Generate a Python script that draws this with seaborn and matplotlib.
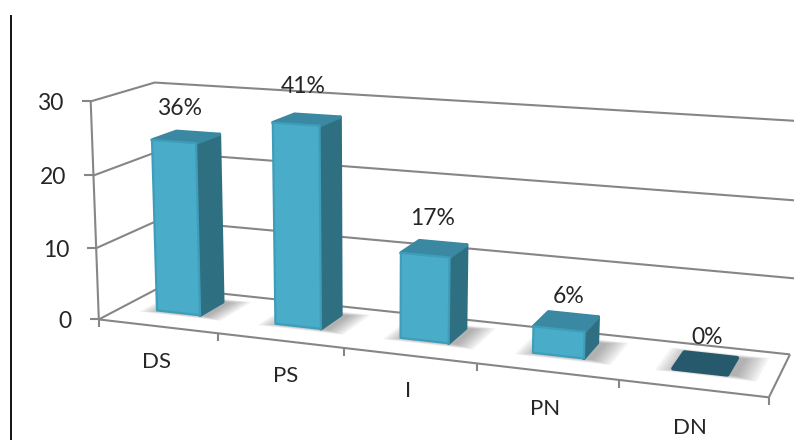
import numpy as np
import pandas as pd
import matplotlib
matplotlib.use("Agg")
import matplotlib.pyplot as plt
import seaborn as sns
from matplotlib.patches import Polygon
from matplotlib.transforms import Affine2D, Transform

categories = ["DS", "PS", "I", "PN", "DN"]
counts = [24, 27.5, 11.5, 3.5, 0]
percent_labels = ["36%", "41%", "17%", "6%", "0%"]
y_ticks = [0, 10, 20, 30]

W, H = 794, 440
BAR_W = 0.37
BAR_SHIFT = 0.48  # bar centres sit a bit left of the middle of each slot
D_FRONT, D_BACK = 0.38, 0.78

FRONT = "#49acc8"
FRONT_EDGE = "#3f9db9"
SIDE = "#2f6f82"
TOP = "#3a88a1"
ZERO = "#26596b"
GRID = "#868686"
TEXT = "#262626"

# where the texts sit, in pixels from the top left
category_label_xy = [(156, 362), (286, 376), (408, 391), (545, 409), (690, 428)]
percent_label_xy = [(180, 108), (303, 86), (433, 218), (569, 296), (707, 337)]

# calibration of the fake 3d view: (category pos, value, depth) -> pixel
calib = [
    ((0, 0, 0), (102, 318)), ((0, 10, 0), (97, 247)), ((0, 20, 0), (92, 175)),
    ((0, 30, 0), (88, 102)), ((0, 0, 1), (157, 290)), ((0, 30, 1), (158, 82)),
    ((1, 0, 0), (219, 332.5)), ((2, 0, 0), (343, 347.5)), ((3, 0, 0), (477, 364)),
    ((4, 0, 0), (618, 381.5)), ((5, 0, 0), (769, 399)), ((5, 0, 1), (790, 352)),
    ((5, 10, 1), (795, 277)), ((5, 20, 1), (799, 200)), ((5, 30, 1), (803, 123)),
]


def fit_camera(pairs):
    rows = []
    for (x, v, d), (u, w) in pairs:
        p = [x, v, d, 1]
        rows.append(p + [0, 0, 0, 0] + [-u * c for c in p])
        rows.append([0, 0, 0, 0] + p + [-w * c for c in p])
    _, _, vt = np.linalg.svd(np.array(rows, dtype=float))
    return vt[-1].reshape(3, 4)


CAM = fit_camera(calib)


def project(x, v, d):
    # category position runs 0..5 on the floor
    q = CAM @ np.array([x, v, d, 1.0])
    return q[0] / q[2], q[1] / q[2]


class DepthPlane(Transform):
    """Data (category index, value) to display, on a plane at a fixed depth."""
    input_dims = 2
    output_dims = 2
    is_separable = False

    def __init__(self, plane_depth):
        super().__init__()
        self.plane_depth = plane_depth

    def transform_non_affine(self, values):
        values = np.asarray(values, dtype=float)
        pts = np.column_stack([values[:, 0] + BAR_SHIFT, values[:, 1],
                               np.full(len(values), self.plane_depth), np.ones(len(values))])
        q = pts @ CAM.T
        return np.column_stack([q[:, 0] / q[:, 2], H - q[:, 1] / q[:, 2]])


df = pd.DataFrame({"category": categories, "count": counts})

sns.set_theme(style="white")
plt.rcParams["font.family"] = ["Lato", "DejaVu Sans"]

fig = plt.figure(figsize=(W / 100, H / 100), dpi=100)
ax = fig.add_axes([0, 0, 1, 1])
sns.barplot(data=df, x="category", y="count", color=FRONT, width=BAR_W, saturation=1, ax=ax)
ax.axis("off")
bars = list(ax.patches)

pix = Affine2D().scale(1, -1).translate(0, H)


def line(pts, color=GRID, lw=1.5, z=1):
    xs, ys = zip(*pts)
    ax.plot(xs, ys, color=color, lw=lw, transform=pix, zorder=z, clip_on=False,
            solid_capstyle="butt", scalex=False, scaley=False)


def face(pts, color, z, alpha=1.0, lw=2.4):
    poly = Polygon(pts, closed=True, facecolor=color, edgecolor=color, lw=lw,
                   joinstyle="round", transform=pix, zorder=z, alpha=alpha, clip_on=False)
    ax.add_patch(poly)


# frame: side wall, back wall and floor
for v in y_ticks:
    line([project(0, v, 0), project(0, v, 1), project(5 if v == 0 else 5.2, v, 1)])
    x0, y0 = project(0, v, 0)
    line([(x0 - 9, y0), (x0, y0)])
    ax.text(x0 - 27, y0 + 2, str(v), transform=pix, ha="right", va="center",
            fontsize=16.5, color=TEXT, clip_on=False)
line([project(0, 0, 0), project(0, 30, 0)])
line([project(0, 0, 0), project(5, 0, 0), project(5, 0, 1)])
for i in range(6):
    x0, y0 = project(i, 0, 0)
    line([(x0, y0), (x0, y0 + 8)])

# the black rule at the left of the picture
line([(11, 15), (11, H)], color="black", lw=1.3)

for name, (tx, ty) in zip(categories, category_label_xy):
    ax.text(tx, ty, name, transform=pix, ha="center", va="center",
            fontsize=16, color=TEXT, clip_on=False)

for i, bar in enumerate(bars):
    v = bar.get_height()
    xl = bar.get_x() + BAR_SHIFT
    xr = xl + bar.get_width()

    # soft shadow on the floor
    for grow in np.arange(0.16, 0, -0.02):
        gx = grow * 1.0
        gd = grow * 0.5
        face([project(xl - gx + 0.05, 0, D_FRONT - gd), project(xr + gx + 0.05, 0, D_FRONT - gd),
              project(xr + gx + 0.05, 0, D_BACK + gd), project(xl - gx + 0.05, 0, D_BACK + gd)],
             "#404040", 2, alpha=0.06, lw=0)

    if v > 0:
        # the front comes from seaborn, only moved onto its plane
        bar.set_transform(DepthPlane(D_FRONT))
        bar.set_edgecolor(FRONT_EDGE)
        bar.set_linewidth(1.6)
        bar.set_joinstyle("round")
        bar.set_zorder(5)
        bar.set_clip_on(False)
        face([project(xr, 0, D_FRONT), project(xr, 0, D_BACK), project(xr, v, D_BACK), project(xr, v, D_FRONT)],
             SIDE, 4)
        face([project(xl, v, D_FRONT), project(xr, v, D_FRONT), project(xr, v, D_BACK), project(xl, v, D_BACK)],
             TOP, 4)
    else:
        bar.set_visible(False)
        face([project(xl, 0, D_FRONT), project(xr, 0, D_FRONT), project(xr, 0, D_BACK), project(xl, 0, D_BACK)],
             ZERO, 4, lw=3)

    tx, ty = percent_label_xy[i]
    ax.text(tx, ty, percent_labels[i], transform=pix, ha="center", va="center",
            fontsize=16.5, color=TEXT, zorder=7, clip_on=False)

fig.savefig("out.png", dpi=100)
